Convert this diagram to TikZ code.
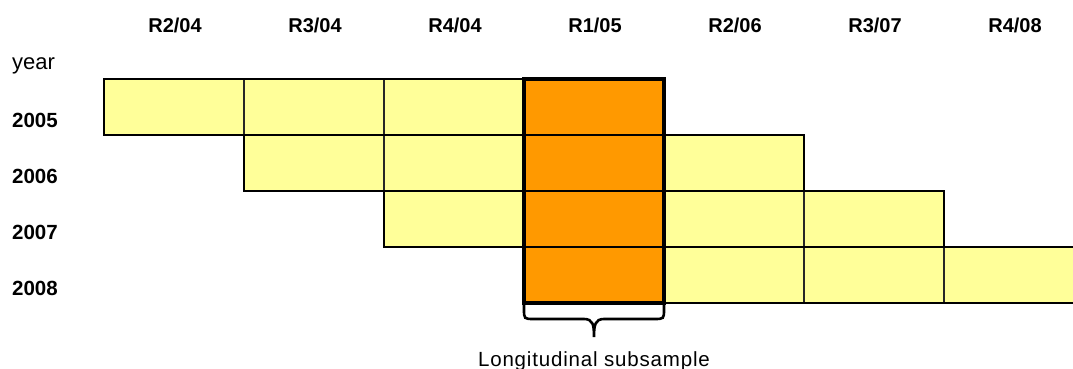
\documentclass[tikz,border=0pt]{standalone}
\usepackage{fontspec}
\setmainfont{Liberation Sans}
\usetikzlibrary{calc}
\definecolor{cellyellow}{HTML}{FFFF99}
\definecolor{cellorange}{HTML}{FF9900}
\begin{document}
\begin{tikzpicture}[x=1pt,y=-1pt,
  cell/.style={anchor=north west,minimum width=140pt,minimum height=56pt,inner sep=0pt,outer sep=0pt,draw=black!85,line width=1.6pt},
  rowline/.style={draw=black,line width=2.8pt},
  framepen/.style={draw=black,line width=4.5pt},
  bracepen/.style={draw=black,line width=2.6pt},
  head/.style={anchor=base,inner sep=0pt,font=\fontsize{20}{24}\selectfont\bfseries},
  yearlab/.style={anchor=base west,inner sep=0pt,font=\fontsize{20.5}{24}\selectfont\bfseries},
  plainlab/.style={anchor=base west,inner sep=0pt,font=\fontsize{22}{24}\selectfont},
  note/.style={anchor=base,inner sep=0pt,font=\fontsize{20.5}{24}\selectfont\addfontfeatures{LetterSpace=4}}
]
\clip (0,0) rectangle (1073,369);
% column headers
\foreach \t [count=\i from 0] in {R2/04,R3/04,R4/04,R1/05,R2/06,R3/07,R4/08}
  \node[head] (h\i) at ({175+140*\i},33) {\t};
% year labels
\node[plainlab] (year) at (12,70) {year};
\foreach \y [count=\i from 0] in {2005,2006,2007,2008}
  \node[yearlab] (y\y) at (12,{127+56*\i}) {\y};
% cells
\foreach \r in {0,...,3}{
  \foreach \k in {0,...,3}{
    \pgfmathtruncatemacro{\c}{\r+\k}
    \ifnum\c=3
      \node[cell,fill=cellorange] (c-\r-\c) at ({104+140*\c},{79+56*\r}) {};
    \else
      \node[cell,fill=cellyellow] (c-\r-\c) at ({104+140*\c},{79+56*\r}) {};
    \fi
  }
}
% row outlines
\foreach \r in {0,...,3}{
  \pgfmathtruncatemacro{\e}{\r+3}
  \draw[rowline] (c-\r-\r.north west) rectangle (c-\r-\e.south east);
}
% longitudinal column frame
\draw[framepen] (c-0-3.north west) rectangle (c-3-3.south east);
% brace
\coordinate (bl) at (c-3-3.south west);
\coordinate (br) at (c-3-3.south east);
\coordinate (bm) at (c-3-3.south);
\draw[bracepen] (bl) -- ($(bl)+(0,6)$) .. controls ($(bl)+(0,16)$) .. ($(bl)+(10,16)$)
  -- ($(bm)+(-10,16)$) .. controls ($(bm)+(-1,16)$) and ($(bm)+(0,22)$) .. ($(bm)+(0,34)$)
  .. controls ($(bm)+(0,22)$) and ($(bm)+(1,16)$) .. ($(bm)+(10,16)$)
  -- ($(br)+(-10,16)$) .. controls ($(br)+(0,16)$) .. ($(br)+(0,6)$) -- (br);
\node[note] (lab) at ($(bm)+(0,63)$) {Longitudinal subsample};
\end{tikzpicture}
\end{document}
